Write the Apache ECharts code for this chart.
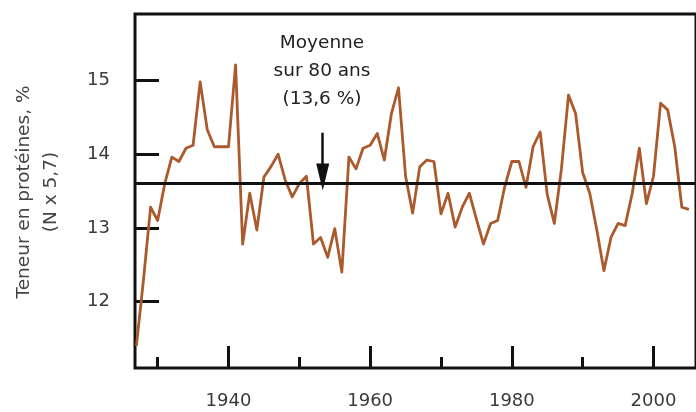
<!DOCTYPE html>
<html>
<head>
<meta charset="utf-8">
<script src="https://cdn.jsdelivr.net/npm/echarts@6/dist/echarts.min.js"></script>
<style>
  html, body { margin: 0; padding: 0; background: #fff; }
  #chart { width: 696px; height: 412px; }
</style>
</head>
<body>
<div id="chart"></div>
<script>
// Annual protein content of the wheat harvest, 1927-2005
const years = [
  1927, 1928, 1929, 1930, 1931, 1932, 1933, 1934, 1935, 1936,
  1937, 1938, 1939, 1940, 1941, 1942, 1943, 1944, 1945, 1946,
  1947, 1948, 1949, 1950, 1951, 1952, 1953, 1954, 1955, 1956,
  1957, 1958, 1959, 1960, 1961, 1962, 1963, 1964, 1965, 1966,
  1967, 1968, 1969, 1970, 1971, 1972, 1973, 1974, 1975, 1976,
  1977, 1978, 1979, 1980, 1981, 1982, 1983, 1984, 1985, 1986,
  1987, 1988, 1989, 1990, 1991, 1992, 1993, 1994, 1995, 1996,
  1997, 1998, 1999, 2000, 2001, 2002, 2003, 2004, 2005
];
const protein = [
  11.40, 12.30, 13.28, 13.10, 13.60, 13.96, 13.90, 14.08, 14.12, 14.98,
  14.33, 14.10, 14.10, 14.10, 15.21, 12.78, 13.47, 12.97, 13.69, 13.83,
  14.00, 13.65, 13.42, 13.60, 13.70, 12.78, 12.87, 12.60, 12.99, 12.40,
  13.96, 13.80, 14.08, 14.12, 14.28, 13.92, 14.55, 14.90, 13.70, 13.20,
  13.83, 13.92, 13.90, 13.19, 13.47, 13.01, 13.28, 13.47, 13.12, 12.78,
  13.06, 13.10, 13.56, 13.90, 13.90, 13.55, 14.10, 14.30, 13.45, 13.06,
  13.80, 14.80, 14.55, 13.75, 13.47, 12.97, 12.42, 12.87, 13.06, 13.03,
  13.47, 14.08, 13.33, 13.70, 14.69, 14.60, 14.10, 13.28, 13.25
];
const meanValue = 13.6;
const yTicks = [12, 13, 14, 15];
const xMajorTicks = [1940, 1960, 1980, 2000];
const xMinorTicks = [1930, 1950, 1970, 1990];
const yTitle = ['Teneur en protéines, %', '(N x 5,7)'];
const noteLines = ['Moyenne', 'sur 80 ans', '(13,6 %)'];
const arrowYear = 1953.3;

const font = 'DejaVu Sans';
const chart = echarts.init(document.getElementById('chart'), null, { renderer: 'canvas' });

chart.setOption({
  animation: false,
  backgroundColor: '#ffffff',
  grid: {
    left: 135, top: 14, right: -10, bottom: 44,
    show: true, borderColor: '#111', borderWidth: 3, backgroundColor: 'transparent'
  },
  xAxis: [
    {
      type: 'value', min: 1926.8, max: 2006, position: 'bottom',
      axisLine: { show: false },
      splitLine: { show: false },
      axisTick: { show: true, inside: true, length: 22, customValues: xMajorTicks,
        lineStyle: { color: '#111', width: 3 } },
      axisLabel: { show: true, customValues: xMajorTicks, margin: 24,
        formatter: v => String(v),
        fontFamily: font, fontSize: 18, color: '#3a3a3a' }
    },
    {
      type: 'value', min: 1926.8, max: 2006, position: 'bottom',
      axisLine: { show: false },
      splitLine: { show: false },
      axisTick: { show: true, inside: true, length: 11, customValues: xMinorTicks,
        lineStyle: { color: '#111', width: 3 } },
      axisLabel: { show: false }
    }
  ],
  yAxis: {
    type: 'value', min: 11.1, max: 15.9,
    axisLine: { show: false },
    splitLine: { show: false },
    axisTick: { show: true, inside: true, length: 24, customValues: yTicks,
      lineStyle: { color: '#111', width: 3 } },
    axisLabel: { show: true, customValues: yTicks, margin: 25,
      formatter: v => String(v),
      fontFamily: font, fontSize: 18, color: '#3a3a3a' }
  },
  graphic: [
    {
      type: 'text', x: 38, y: 192, rotation: Math.PI / 2,
      style: {
        text: yTitle.join('\n'), fontFamily: font, fontSize: 18.5, lineHeight: 27,
        fill: '#444', align: 'center', verticalAlign: 'middle'
      }
    },
    {
      type: 'text', x: 322, y: 71,
      style: {
        text: noteLines.join('\n'), fontFamily: font, fontSize: 18.5, lineHeight: 28,
        fill: '#222', align: 'center', verticalAlign: 'middle'
      }
    }
  ],
  series: [{
    type: 'line',
    xAxisIndex: 0,
    data: years.map((y, i) => [y, protein[i]]),
    showSymbol: false,
    symbol: 'none',
    lineStyle: { color: '#aa5a2c', width: 2.8, join: 'round' },
    z: 2,
    markLine: {
      silent: true,
      animation: false,
      label: { show: false },
      emphasis: { disabled: true },
      data: [
        [
          { coord: [1926.8, meanValue], symbol: 'none',
            lineStyle: { color: '#111', width: 3, type: 'solid' } },
          { coord: [2006, meanValue], symbol: 'none' }
        ],
        [
          { coord: [arrowYear, 14.29], symbol: 'none',
            lineStyle: { color: '#111', width: 2.5, type: 'solid' } },
          { coord: [arrowYear, 13.69], symbol: 'triangle', symbolSize: [13, 27] }
        ]
      ]
    }
  }]
});
</script>
</body>
</html>
